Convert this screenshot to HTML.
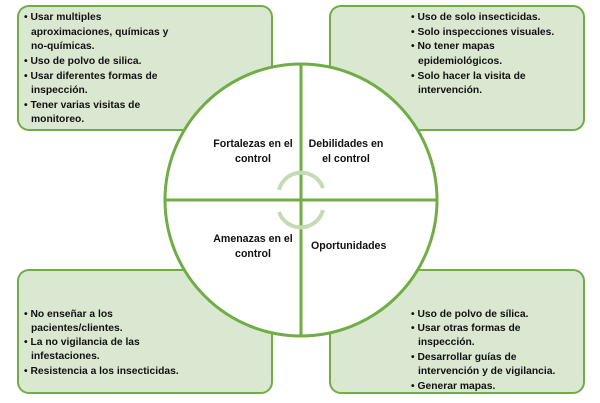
<!DOCTYPE html>
<html><head><meta charset="utf-8"><style>
body{margin:0;width:600px;height:403px;background:#fff;position:relative;overflow:hidden;font-family:"Liberation Sans",sans-serif;}
.box{position:absolute;background:#dae7d1;border:2px solid #70ad47;border-radius:12px;box-sizing:border-box;}
.t{position:absolute;font-size:10.3px;font-weight:bold;color:#111;white-space:nowrap;line-height:12px;}
.c{font-size:10.6px;line-height:15px}
svg{position:absolute;left:0;top:0}
</style></head><body>
<div class="box" style="left:17px;top:5px;width:256px;height:126px"></div>
<div class="box" style="left:329px;top:5px;width:256px;height:126px"></div>
<div class="box" style="left:17px;top:269px;width:256px;height:125px"></div>
<div class="box" style="left:329px;top:269px;width:256px;height:125px"></div>
<svg width="600" height="403">
<circle cx="301" cy="200" r="136" fill="#fff" stroke="#70ad47" stroke-width="3"/>
<line x1="301" y1="64" x2="301" y2="336" stroke="#70ad47" stroke-width="3"/>
<line x1="165" y1="200" x2="437" y2="200" stroke="#70ad47" stroke-width="3"/>
<path d="M279 190 A23 23 0 0 1 323 188" fill="none" stroke="#c5dbb6" stroke-width="4"/>
<path d="M323 210 A23 23 0 0 1 279 212" fill="none" stroke="#c5dbb6" stroke-width="4"/>
</svg>
<div class="t" style="left:24px;top:12px">• Usar multiples</div>
<div class="t" style="left:31px;top:27px">aproximaciones, químicas y</div>
<div class="t" style="left:31px;top:41px">no-químicas.</div>
<div class="t" style="left:24px;top:56px">• Uso de polvo de silica.</div>
<div class="t" style="left:24px;top:71px">• Usar diferentes formas de</div>
<div class="t" style="left:31px;top:85px">inspección.</div>
<div class="t" style="left:24px;top:100px">• Tener varias visitas de</div>
<div class="t" style="left:31px;top:114px">monitoreo.</div>

<div class="t" style="left:411px;top:12px">• Uso de solo insecticidas.</div>
<div class="t" style="left:411px;top:27px">• Solo inspecciones visuales.</div>
<div class="t" style="left:411px;top:41px">• No tener mapas</div>
<div class="t" style="left:418px;top:56px">epidemiológicos.</div>
<div class="t" style="left:411px;top:71px">• Solo hacer la visita de</div>
<div class="t" style="left:418px;top:85px">intervención.</div>

<div class="t" style="left:24px;top:309px">• No enseñar a los</div>
<div class="t" style="left:31px;top:323px">pacientes/clientes.</div>
<div class="t" style="left:24px;top:337px">• La no vigilancia de las</div>
<div class="t" style="left:31px;top:351px">infestaciones.</div>
<div class="t" style="left:24px;top:366px">• Resistencia a los insecticidas.</div>

<div class="t" style="left:411px;top:309px">• Uso de polvo de sílica.</div>
<div class="t" style="left:411px;top:323px">• Usar otras formas de</div>
<div class="t" style="left:418px;top:337px">inspección.</div>
<div class="t" style="left:411px;top:352px">• Desarrollar guías de</div>
<div class="t" style="left:418px;top:366px">intervención y de vigilancia.</div>
<div class="t" style="left:411px;top:381px">• Generar mapas.</div>

<div class="t c" style="left:198px;top:137px;width:110px;text-align:center">Fortalezas en el<br>control</div>
<div class="t c" style="left:291px;top:137px;width:110px;text-align:center">Debilidades en<br>el control</div>
<div class="t c" style="left:198px;top:232px;width:110px;text-align:center">Amenazas en el<br>control</div>
<div class="t c" style="left:311px;top:239px">Oportunidades</div>
</body></html>
